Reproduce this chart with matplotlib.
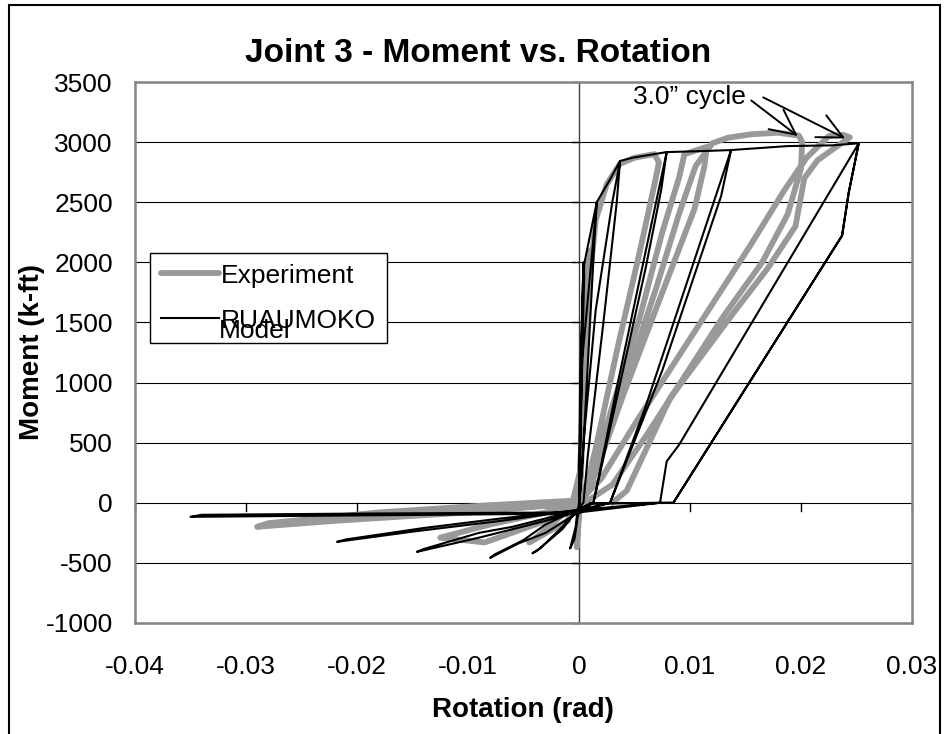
# Joint 3 - moment vs rotation, experiment vs RUAUMOKO model
import matplotlib.pyplot as plt
from matplotlib.lines import Line2D
from matplotlib.patches import Rectangle

plt.rcParams['font.family'] = ['Liberation Sans', 'DejaVu Sans']
plt.rcParams['axes.unicode_minus'] = False

# experiment hysteresis path (rad, k-ft)
exp_rot = [0.0, 0.0002, -0.0002, 0.0001, 0.0003, 0.0006, 0.0010, 0.0006, 0.0002,
           -0.001, -0.0045, -0.004, -0.001, 0.0,
           0.0008, 0.0015, 0.0025, 0.0037, 0.005, 0.0068, 0.0072, 0.0068, 0.0055,
           0.0035, 0.0015, 0.0003,
           -0.003, -0.0085, -0.0125, -0.008, -0.003, 0.0,
           0.001, 0.003, 0.0055, 0.0075, 0.009, 0.0095, 0.0115, 0.0113, 0.0104,
           0.0073, 0.004, 0.0015, 0.0003,
           -0.01, -0.022, -0.029, -0.028, -0.018, -0.008, 0.0,
           0.002, 0.0045, 0.007, 0.009, 0.0105, 0.012, 0.0134, 0.0155, 0.0179,
           0.0198, 0.0201, 0.0200, 0.0188, 0.0165, 0.013, 0.0095, 0.006, 0.003,
           0.0005, -0.015, -0.01, 0.0,
           0.002, 0.005, 0.0085, 0.012, 0.0155, 0.0185, 0.0205, 0.0215, 0.0225,
           0.0238, 0.0244, 0.0215, 0.0203, 0.0195, 0.017, 0.014, 0.0082, 0.0043,
           0.003]
exp_mom = [0, 400, -370, 0, 900, 1600, 2100, 1500, 300,
           -150, -330, -300, -60, 100,
           1700, 2350, 2650, 2820, 2870, 2900, 2830, 2650, 2100,
           1300, 450, 0,
           -150, -330, -290, -180, -80, 0,
           200, 800, 1550, 2250, 2700, 2900, 2960, 2800, 2443,
           1700, 900, 250, 0,
           -80, -150, -200, -170, -80, -20, 20,
           400, 1100, 1800, 2400, 2800, 2990, 3036, 3065, 3078,
           3055, 3000, 2780, 2400, 2000, 1550, 1050, 550, 150,
           0, -100, -50, 10,
           200, 650, 1150, 1650, 2150, 2600, 2870, 2960, 3050,
           3060, 3040, 2850, 2700, 2300, 1950, 1590, 870, 100,
           0]

# RUAUMOKO model path
mod_rot = [0.0, 0.0001, 0.0004, 0.0002, 0.0, -0.0003, -0.0008, -0.0004, 0.0,
           0.0003, 0.0016, 0.0014, 0.0003, 0.0,
           0.0002, 0.0005, 0.0016, 0.0028, 0.0037, 0.0034, 0.0022, 0.0008, 0.0004,
           -0.0015, -0.0035, -0.0042, -0.0038, -0.0015, 0.0,
           0.0005, 0.0015, 0.003, 0.0037, 0.0048, 0.0079, 0.0074, 0.006, 0.003, 0.0013,
           -0.003, -0.0055, -0.008, -0.0076, -0.005, -0.003, 0.0,
           0.0013, 0.0035, 0.0079, 0.011, 0.0137, 0.0128, 0.0075, 0.0028,
           -0.003, -0.009, -0.0146, -0.014, -0.009, -0.006, 0.0,
           0.0028, 0.006, 0.0137, 0.0188, 0.0228, 0.0252, 0.0243, 0.0237, 0.0085,
           0.001, 0.0, -0.007, -0.015, -0.0218, -0.021, -0.014, -0.007, 0.0,
           0.0073, 0.0079, 0.009, 0.0252, 0.0243, 0.0237, 0.0085,
           0.001, 0.0, -0.02, -0.035, -0.034, -0.02, 0.0, 0.0073]
mod_mom = [0, 1000, 2000, 1200, 0, -200, -380, -300, -40,
           1200, 2500, 2200, 300, -40,
           900, 2000, 2500, 2690, 2843, 2500, 1500, 400, 0,
           -200, -380, -420, -400, -220, -40,
           600, 1600, 2500, 2843, 2870, 2917, 2600, 1950, 700, 0,
           -250, -340, -458, -430, -310, -180, -50,
           0, 1000, 2917, 2925, 2934, 2550, 1100, 0,
           -150, -290, -408, -385, -250, -200, -60,
           0, 800, 2934, 2967, 2973, 2990, 2580, 2222, 0,
           -5, -60, -150, -240, -325, -305, -210, -130, -60,
           0, 345, 480, 2990, 2580, 2222, 0,
           -5, -90, -105, -117, -100, -90, -80, 0]

yticks = [-1000, -500, 0, 500, 1000, 1500, 2000, 2500, 3000, 3500]
xticks = [-0.04, -0.03, -0.02, -0.01, 0.0, 0.01, 0.02, 0.03]
xlabels = ['-0.04', '-0.03', '-0.02', '-0.01', '0', '0.01', '0.02', '0.03']

fig = plt.figure(figsize=(9.45, 7.34), dpi=100)
ax = fig.add_axes([135 / 945, 1 - 623 / 734, 777 / 945, 541 / 734])

for t in yticks:
    ax.axhline(t, color='black', lw=0.8, zorder=1)
ax.axvline(0, color='#404040', lw=1.0, zorder=1)

# tick marks sit on the zero lines, like Excel
for t in yticks:
    ax.plot([-0.0006, 0], [t, t], color='black', lw=1.0, clip_on=False, zorder=1)
for t in xticks:
    ax.plot([t, t], [0, -70], color='black', lw=1.0, clip_on=False, zorder=1)

ax.plot(exp_rot, exp_mom, color='#999999', lw=4.2, solid_joinstyle='round',
        solid_capstyle='round', zorder=2)
ax.plot(mod_rot, mod_mom, color='black', lw=1.5, zorder=3)

ax.set_xlim(-0.04, 0.03)
ax.set_ylim(-1000, 3500)
ax.set_xticks(xticks)
ax.set_xticklabels(xlabels)
ax.set_yticks(yticks)
ax.tick_params(axis='x', length=0, pad=23, labelsize=19)
ax.tick_params(axis='y', length=0, pad=16, labelsize=19)
for s in ax.spines.values():
    s.set_color('#858585')
    s.set_linewidth(1.8)

# 3.0" cycle callout
arrow = dict(arrowstyle='->,head_length=0.45,head_width=0.22', color='black',
             lw=1.4, mutation_scale=40)
ax.annotate('3.0\u201d cycle', xy=(0.0199, 3037), xytext=(0.0049, 3378),
            fontsize=19, ha='left', va='center',
            arrowprops=dict(arrow, relpos=(1.0, 0.5)))
ax.annotate('', xy=(0.0242, 3020), xytext=(0.0166, 3372),
            arrowprops=dict(arrow, shrinkA=0))

handles = [Line2D([], [], color='#999999', lw=4.2, solid_capstyle='round'),
           Line2D([], [], color='black', lw=1.5)]
leg = fig.legend(handles, ['Experiment', 'RUAUMOKO'], loc='upper left',
                 bbox_to_anchor=(150 / 945, 1 - 253 / 734), borderaxespad=0,
                 fontsize=19, handlelength=2.2, handletextpad=0.1,
                 labelspacing=0.8, borderpad=0.4, fancybox=False,
                 edgecolor='black', framealpha=1)
leg.get_frame().set_linewidth(1.0)
fig.text(219 / 945, 1 - 338 / 734, 'Model', fontsize=19, va='baseline',
         zorder=10)

fig.text(478 / 945, 1 - 53 / 734, 'Joint 3 - Moment vs. Rotation',
         fontsize=24, fontweight='bold', ha='center', va='center')
fig.text(523 / 945, 1 - 710 / 734, 'Rotation (rad)', fontsize=20,
         fontweight='bold', ha='center', va='center')
fig.text(32 / 945, 1 - 352 / 734, 'Moment (k-ft)', fontsize=20,
         fontweight='bold', ha='center', va='center', rotation=90)

fig.patches.append(Rectangle((9 / 945, -0.05), 931 / 945, 1.05 - 5 / 734,
                             transform=fig.transFigure, fill=False,
                             edgecolor='black', lw=1.5))

fig.savefig('out.png', dpi=100)
